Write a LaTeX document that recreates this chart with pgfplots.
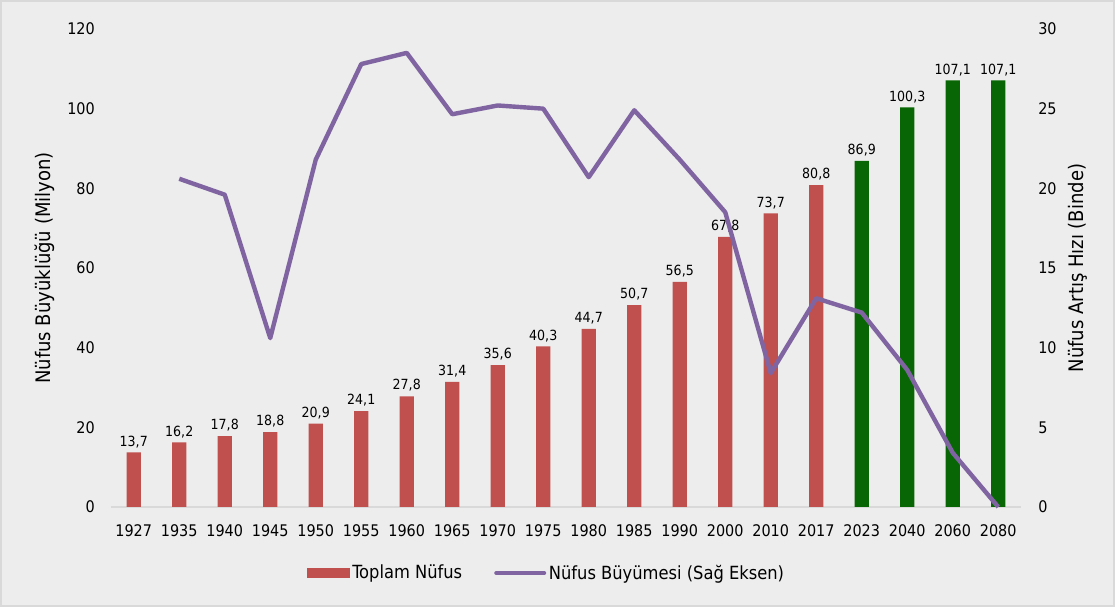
\documentclass[border=0pt]{standalone}
\usepackage{fontspec}
\setmainfont{DejaVu Sans Condensed}
\usepackage{pgfplots}
\pgfplotsset{compat=1.18}
\definecolor{bgcol}{RGB}{237,237,237}
\definecolor{framecol}{RGB}{217,217,217}
\definecolor{axiscol}{RGB}{217,217,217}
\definecolor{barred}{RGB}{192,80,77}
\definecolor{bargreen}{RGB}{8,102,4}
\definecolor{linepurple}{RGB}{128,100,162}

\pgfplotsset{
  common/.style={
    scale only axis, width=682.5pt, height=358.5pt,
    xmin=-0.5, xmax=19.5, clip=false,
    /pgf/number format/assume math mode=true,
    tick style={draw=none},
    ticklabel style={font=\fontsize{12}{14}\selectfont},
    label style={font=\fontsize{15}{17}\selectfont},
  }
}

\begin{document}
\begin{tikzpicture}
\path[use as bounding box, fill=bgcol] (-83.25pt,-75pt) rectangle (753pt,380.25pt);
\draw[framecol, line width=1pt] (-82.5pt,-74.25pt) rectangle (752.25pt,379.5pt);

\begin{axis}[common,
  ymin=0, ymax=120, ytick={0,20,...,120},
  axis y line*=left, axis x line*=bottom,
  y axis line style={draw=none},
  x axis line style={draw=axiscol, line width=1.2pt, -},
  xtick={0,...,19},
  xticklabels={1927,1935,1940,1945,1950,1955,1960,1965,1970,1975,1980,1985,1990,2000,2010,2017,2023,2040,2060,2080},
  xticklabel style={inner sep=0pt, anchor=north, yshift=-9pt},
  yticklabel style={inner sep=0pt, anchor=east, xshift=-12pt},
  ylabel={Nüfus Büyüklüğü (Milyon)},
  ylabel style={at={(axis description cs:0,0.5)}, anchor=center, yshift=49.5pt},
  ybar, bar width=10.7pt, bar shift=0pt,
  nodes near coords,
  nodes near coords style={font=\fontsize{10.5}{12}\selectfont, text=black,
    /pgf/number format/.cd, fixed, fixed zerofill, precision=1, use comma},
  legend columns=2,
  legend style={at={(axis description cs:0.479,0)}, yshift=-49.5pt, anchor=center,
    draw=none, fill=none, font=\fontsize{13.6}{16}\selectfont,
    /tikz/every even column/.append style={column sep=22pt}},
]
\addplot[fill=barred, draw=none,
  legend image code/.code={\fill[barred] (0pt,-3.75pt) rectangle (32pt,3.75pt);}]
  coordinates {
  (0,13.7) (1,16.2) (2,17.8) (3,18.8) (4,20.9) (5,24.1) (6,27.8) (7,31.4)
  (8,35.6) (9,40.3) (10,44.7) (11,50.7) (12,56.5) (13,67.8) (14,73.7) (15,80.8)
};
\addlegendentry{Toplam Nüfus}
\addplot[fill=bargreen, draw=none, forget plot]
  coordinates {
  (16,86.9) (17,100.3) (18,107.1) (19,107.1)
};
\addlegendimage{legend image code/.code={\draw[linepurple, line width=3pt, line cap=round] (0pt,0pt) -- (36pt,0pt);}}
\addlegendentry{Nüfus Büyümesi (Sağ Eksen)}
\end{axis}

\begin{axis}[common,
  ymin=0, ymax=30, ytick={0,5,...,30},
  axis y line*=right, axis x line=none,
  y axis line style={draw=none},
  yticklabel style={inner sep=0pt, anchor=west, xshift=12.75pt},
  ylabel={Nüfus Artış Hızı (Binde)},
  ylabel style={at={(axis description cs:1,0.5)}, anchor=center, yshift=-42.75pt},
]
\addplot[linepurple, line width=3.3pt, line join=round, mark=none] coordinates {
  (1,20.6) (2,19.6) (3,10.6) (4,21.8) (5,27.8) (6,28.5) (7,24.65) (8,25.2)
  (9,25.0) (10,20.7) (11,24.9) (12,21.8) (13,18.5) (14,8.4) (15,13.1)
  (16,12.2) (17,8.6) (18,3.4) (19,0.0)
};
\end{axis}
\end{tikzpicture}
\end{document}
